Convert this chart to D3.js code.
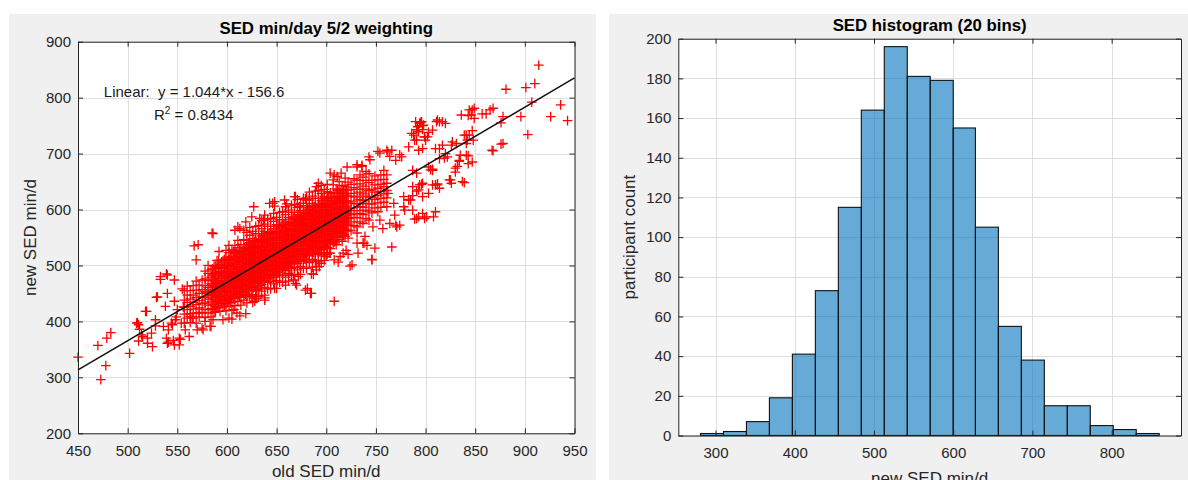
<!DOCTYPE html>
<html lang="en">
<head>
<meta charset="UTF-8">
<title>SED min/day 5/2 weighting</title>
<script src="https://d3js.org/d3.v7.min.js"></script>
<style>
  body { margin: 0; background: #fff; }
  svg { display: block; font-family: "Liberation Sans", Arial, Helvetica, sans-serif; }
</style>
</head>
<body>
<div id="chart"></div>
<script>
// ---------- data ----------
var scatterXTicks = [450, 500, 550, 600, 650, 700, 750, 800, 850, 900, 950];
var scatterYTicks = [200, 300, 400, 500, 600, 700, 800, 900];
var fitSlope = 1.044;
var fitIntercept = -156.6;
var fitR2 = "0.8434";

// dense middle of the cloud: [old SED, [new SED values in that column]]
var scatterCore = [
  [557, [397,413,425,438,455]],
  [560, [406,421,434,447,463]],
  [563, [398,414,427,440,455]],
  [566, [406,422,434,447,464]],
  [569, [415,430,443,456,472]],
  [572, [408,424,437,450,465]],
  [575, [416,432,444,457,474]],
  [578, [407,421,433,443,453,464,476,490]],
  [581, [415,429,440,451,461,473,486,500]],
  [584, [408,423,435,446,456,467,479,492]],
  [587, [416,430,442,452,462,473,485,499]],
  [590, [424,438,449,460,470,482,495,509]],
  [593, [418,433,445,456,466,477,489,502]],
  [596, [426,440,452,462,472,483,495,509]],
  [599, [419,432,443,453,462,471,480,490,501,513,527]],
  [602, [427,440,451,460,469,478,488,499,510,523,536]],
  [605, [420,434,445,455,465,474,483,493,504,515,528]],
  [608, [428,441,452,462,471,480,489,499,510,522,536]],
  [611, [436,449,460,469,478,487,497,508,519,532,545]],
  [614, [429,443,454,464,474,483,492,502,513,524,537]],
  [617, [438,451,462,472,481,490,499,509,520,532,546]],
  [620, [433,446,457,467,476,485,494,503,512,522,533,545,559]],
  [623, [442,454,465,475,484,492,501,510,520,530,541,554,568]],
  [626, [434,448,460,470,479,488,497,506,515,525,536,548,561]],
  [629, [445,457,469,479,487,496,505,514,524,534,545,557,570]],
  [632, [445,458,469,479,488,497,506,515,524,534,545,557,571]],
  [635, [454,466,477,487,496,504,513,522,532,542,553,566,580]],
  [638, [447,461,473,483,492,501,510,519,528,538,549,561,574]],
  [641, [458,470,482,492,500,509,518,527,537,547,558,570,583]],
  [644, [458,471,482,492,501,510,519,528,537,547,558,570,584]],
  [647, [467,479,490,500,509,517,526,535,545,555,566,579,593]],
  [650, [459,473,485,495,504,513,522,531,540,550,561,573,586]],
  [653, [470,482,494,504,512,521,530,539,549,559,570,582,595]],
  [656, [470,483,494,504,513,522,531,540,549,559,570,582,596]],
  [659, [479,491,502,512,521,529,538,547,557,567,578,591,605]],
  [662, [472,486,498,508,517,526,535,544,553,563,574,586,599]],
  [665, [483,495,507,517,525,534,543,552,562,572,583,595,608]],
  [668, [483,496,507,517,526,535,544,553,562,572,583,595,609]],
  [671, [492,504,515,525,534,542,551,560,570,580,591,604,618]],
  [674, [484,498,510,520,529,538,547,556,565,575,586,598,611]],
  [677, [495,507,519,529,537,546,555,564,574,584,595,607,620]],
  [680, [495,508,519,529,538,547,556,565,574,584,595,607,621]],
  [683, [505,517,528,538,547,555,564,573,583,593,604,617,631]],
  [686, [497,511,523,533,542,551,560,569,578,588,599,611,624]],
  [689, [508,520,532,542,550,559,568,577,587,597,608,620,633]],
  [692, [508,521,532,542,551,560,569,578,587,597,608,620,634]],
  [695, [517,529,540,550,559,567,576,585,595,605,616,629,643]],
  [698, [509,523,535,545,554,563,572,581,590,600,611,623,636]],
  [701, [520,532,544,554,562,571,580,589,599,609,620,632,645]],
  [704, [530,544,555,565,574,583,593,604,616,630]],
  [707, [540,553,564,574,583,593,604,616,629,644]],
  [710, [537,551,562,572,581,590,600,611,623,637]],
  [713, [546,559,570,580,589,599,610,622,635,650]],
  [716, [543,557,568,578,587,596,606,617,629,643]],
  [719, [552,565,576,586,595,605,616,628,641,656]],
  [722, [549,563,574,584,593,602,612,623,635,649]],
  [725, [562,578,591,603,615,629,645]],
  [728, [571,586,598,611,624,639,655]],
  [731, [569,585,598,610,622,636,652]],
  [734, [578,593,605,618,631,646,662]],
  [737, [575,591,604,616,628,642,658]],
  [740, [584,599,611,624,637,652,668]],
  [743, [581,597,610,622,634,648,664]],
  [746, [594,610,622,635,652]],
  [749, [603,618,631,644,660]],
  [752, [596,612,625,638,653]],
  [755, [604,620,632,645,662]],
  [758, [613,628,641,654,670]],
  [761, [605,621,634,647,662]]
];

// the solid band hugging the fit line, same layout
var scatterCoreInner = [
  [585.5, [421,431,440,448,456,465,474,483,494]],
  [588.5, [417,427,436,445,453,461,469,478,488,499]],
  [591.5, [425,435,444,452,460,469,477,487,497,509]],
  [594.5, [432,442,451,460,468,477,486,495,506]],
  [597.5, [429,438,447,456,464,472,481,490,500,511]],
  [600.5, [436,446,455,463,471,480,489,498,509]],
  [603.5, [433,443,452,461,469,477,485,494,504,515]],
  [606.5, [441,451,460,468,476,485,493,503,513,525]],
  [609.5, [448,458,467,476,484,493,502,511,522]],
  [612.5, [445,454,463,472,480,488,497,506,516,527]],
  [615.5, [452,462,471,479,487,496,505,514,525]],
  [618.5, [448,458,467,476,484,492,500,509,519,530]],
  [621.5, [456,466,475,483,491,500,508,518,528,540]],
  [624.5, [463,473,482,491,499,508,517,526,537]],
  [627.5, [461,470,479,488,496,504,513,522,532,543]],
  [630.5, [468,478,487,495,503,512,521,530,541]],
  [633.5, [464,474,483,492,500,508,516,525,535,546]],
  [636.5, [472,482,491,499,507,516,524,534,544,556]],
  [639.5, [479,489,498,507,515,524,533,542,553]],
  [642.5, [476,485,494,503,511,519,528,537,547,558]],
  [645.5, [483,493,502,510,518,527,536,545,556]],
  [648.5, [479,489,498,507,515,523,531,540,550,561]],
  [651.5, [488,498,507,515,523,532,540,550,560,572]],
  [654.5, [495,505,514,523,531,540,549,558,569]],
  [657.5, [492,501,510,519,527,535,544,553,563,574]],
  [660.5, [499,509,518,526,534,543,552,561,572]],
  [663.5, [495,505,514,523,531,539,547,556,566,577]],
  [666.5, [503,513,522,530,538,547,555,565,575,587]],
  [669.5, [510,520,529,538,546,555,564,573,584]],
  [672.5, [508,517,526,535,543,551,560,569,579,590]],
  [675.5, [515,525,534,542,550,559,568,577,588]],
  [678.5, [511,521,530,539,547,555,563,572,582,593]],
  [681.5, [519,529,538,546,554,563,571,581,591,603]],
  [684.5, [526,536,545,554,562,571,580,589,600]],
  [687.5, [523,532,541,550,558,566,575,584,594,605]],
  [690.5, [530,540,549,557,565,574,583,592,603]],
  [693.5, [526,536,545,554,562,570,578,587,597,608]],
  [696.5, [535,545,554,562,570,579,587,597,607,619]],
  [699.5, [542,552,561,570,578,587,596,605,616]],
  [702.5, [539,548,557,566,574,582,591,600,610,621]],
  [705.5, [546,556,565,573,581,590,599,608,619]],
  [708.5, [542,552,561,570,578,586,594,603,613,624]],
  [711.5, [550,560,569,577,585,594,602,612,622,634]],
  [714.5, [557,567,576,585,593,602,611,620,631]],
  [717.5, [554,563,572,581,589,597,606,615,625,636]],
  [720.5, [562,572,581,589,597,606,615,624,635]]
];

// scattered points around the cloud and in both tails: [old SED, new SED]
var scatterSparse = [
  [450,336],[473,296],[478,321],[470,357],[479,370],[483,380],[502,343],[509,397],[511,394],[519,418],
  [512,386],[514,376],[511,365],[520,370],[525,355],[524,379],[529,443],[533,475],[539,485],[547,474],
  [540,450],[538,427],[536,391],[539,370],[540,361],[547,358],[552,358],[552,370],[545,394],[549,408],
  [554,397],[550,421],[547,436],[555,458],[567,535],[569,510],[571,537],[585,558],[565,406],[570,385],
  [575,388],[584,391],[572,415],[540,483],[533,480],[530,444],[528,403],[528,392],[518,418],[510,398],
  [515,373],[520,361],[541,363],[546,366],[553,368],[544,397],[541,385],[548,403],[558,385],[562,373],
  [569,397],[578,400],[586,403],
  [708,436],[685,450],[681,459],[669,468],[659,465],[648,459],[638,442],[628,436],[630,441],[607,421],
  [605,404],[602,406],[596,403],[613,410],[619,414],[625,445],[766,533],[749,531],[746,511],[741,536],
  [738,540],[724,499],[722,520],[720,527],[708,510],[712,506],[714,516],[698,520],[703,522],[690,492],
  [693,498],[685,485],[687,484],[665,483],[672,480],[700,533],[732,522],[789,583],[799,584],[810,596],
  [770,572],[764,575],[779,599],[785,617],[769,590],[762,629],[778,605],[783,618],[787,625],[791,633],
  [793,635],[797,623],[803,629],[787,599],[793,587],[808,587],[797,593],
  [586,557],[608,563],[611,569],[619,578],[625,587],[627,605],[638,590],[646,611],[648,614],[658,617],
  [669,623],[673,605],[681,599],[692,647],[704,665],[708,662],[711,659],[721,676],[731,676],[736,679],
  [743,694],[754,701],[762,703],[766,706],[774,698],[770,688],[776,694],[783,712],[789,724],[791,743],
  [795,756],[797,750],[799,730],[803,738],[807,742],[811,757],[820,754],[814,691],[822,694],[807,670],
  [803,676],[812,644],[814,638],[793,706],[797,709],[787,670],[791,665],[826,647],[830,667],[835,697],
  [843,682],[847,685],[841,718],[848,724],[867,706],[878,718],[849,763],[857,771],[865,778],[843,768],
  [849,781],[914,858],[910,825],[901,818],[881,815],[907,792],[936,787],[943,759],[926,766],[896,766],
  [903,734],[878,766],[876,755],[868,781],[861,771],[847,778],[846,769],[844,778],[847,741],[844,733],
  [836,769],[876,717],[868,705],[843,696],[834,688],[832,677],[830,674],[824,653],[839,648],[812,760],
  [817,757],[790,757],[796,757],[791,743],[797,743],[799,730],[800,724],[827,721],[826,715],[831,718],
  [841,733],[842,724],[814,709],[810,709],[820,700],[819,692],[805,671],[807,644],[812,646],[794,644],
  [796,645],[787,641],[807,672],[825,653],[837,650],[810,644],[797,647],[834,686],[841,697],[839,733],
  [817,715],[814,757],[792,748],[802,730],[786,736],
  // ragged edges of the dense band
  [592,525],[613,566],[617,563],[633,584],[637,581],[643,611],[648,606],[660,610],[668,623],[679,619],
  [680,617],[690,641],[715,665],[707,653],[731,680],[736,677],[744,689],[752,704],[761,706],[764,695],
  [788,733],[791,724],[793,739],[794,754],[798,751],
  [610,415],[598,438],[630,456],[638,438],[667,474],[670,465],[679,456],[684,450],[690,498],[695,504],
  [700,516],[704,522],[717,522],[726,501],[731,540],[737,540],[746,510],[747,569],[757,566],[771,569],
  [774,572],[791,584],[801,587],[754,581],[768,611],[778,623],[783,617],[731,558],[739,552],
  [576,385],[583,391],[563,409],[556,426]
];

var histEdges = [281, 310, 339, 368, 397, 426, 455, 484, 513, 542, 571, 600, 628, 657, 686, 715, 744, 773, 802, 831, 860];
var histCounts = [1, 2, 7, 19, 41, 73, 115, 164, 196, 181, 179, 155, 105, 55, 38, 15, 15, 5, 3, 1];
var histXTicks = [300, 400, 500, 600, 700, 800];
var histYTicks = [0, 20, 40, 60, 80, 100, 120, 140, 160, 180, 200];

// ---------- layout ----------
var W = 1188, H = 480;
var ink = "#262626", gridCol = "#dfdfdf", panelCol = "#f0f0f0";

var svg = d3.select("#chart").append("svg")
  .attr("width", W).attr("height", H);

svg.append("rect").attr("x", 9).attr("y", 14).attr("width", 587).attr("height", H - 14).attr("fill", panelCol);
svg.append("rect").attr("x", 609).attr("y", 14).attr("width", W - 609).attr("height", H - 14).attr("fill", panelCol);

// white plot box + grid, returns layers for data and for the frame
function makeAxes(x, y, xTicks, yTicks) {
  var x0 = x.range()[0], x1 = x.range()[1];
  var y0 = y.range()[0], y1 = y.range()[1];
  var g = svg.append("g");
  g.append("rect").attr("x", x0).attr("y", y1).attr("width", x1 - x0).attr("height", y0 - y1).attr("fill", "#fff");

  var grid = g.append("g").attr("stroke", gridCol).attr("stroke-width", 1);
  grid.selectAll(".gx").data(xTicks).join("line")
    .attr("x1", d => Math.round(x(d)) + 0.5).attr("x2", d => Math.round(x(d)) + 0.5)
    .attr("y1", y1).attr("y2", y0);
  grid.selectAll(".gy").data(yTicks).join("line")
    .attr("y1", d => Math.round(y(d)) + 0.5).attr("y2", d => Math.round(y(d)) + 0.5)
    .attr("x1", x0).attr("x2", x1);

  return { plot: g.append("g"), axes: g.append("g") };
}

// box with inward ticks on all four sides, labels only bottom/left
function drawFrame(layer, x, y, xTicks, yTicks) {
  var x0 = x.range()[0], x1 = x.range()[1];
  var y0 = y.range()[0], y1 = y.range()[1];

  var bottom = layer.append("g").attr("transform", "translate(0," + y0 + ")")
    .call(d3.axisBottom(x).tickValues(xTicks).tickSizeInner(-5).tickSizeOuter(0).tickPadding(12));
  var top = layer.append("g").attr("transform", "translate(0," + y1 + ")")
    .call(d3.axisTop(x).tickValues(xTicks).tickSizeInner(-5).tickSizeOuter(0).tickFormat(""));
  var left = layer.append("g").attr("transform", "translate(" + x0 + ",0)")
    .call(d3.axisLeft(y).tickValues(yTicks).tickSizeInner(-5).tickSizeOuter(0).tickPadding(7));
  var right = layer.append("g").attr("transform", "translate(" + x1 + ",0)")
    .call(d3.axisRight(y).tickValues(yTicks).tickSizeInner(-5).tickSizeOuter(0).tickFormat(""));

  [bottom, top, left, right].forEach(function (a) {
    a.select(".domain").attr("stroke", ink);
    a.selectAll(".tick line").attr("stroke", ink);
    a.selectAll(".tick text").attr("fill", ink).style("font-size", "15px")
      .style("font-family", '"Liberation Sans", Arial, sans-serif');
  });
}

// ---------- left: scatter ----------
var sx = d3.scaleLinear().domain([450, 950]).range([78, 574.5]);
var sy = d3.scaleLinear().domain([200, 900]).range([433.3, 41.7]);
var leftAx = makeAxes(sx, sy, scatterXTicks, scatterYTicks);

var corePairs = [];
scatterCore.concat(scatterCoreInner).forEach(function (col) {
  col[1].forEach(function (v) { corePairs.push([col[0], v]); });
});

var plus = "M-4.8,0H4.8M0,-4.8V4.8";
leftAx.plot.append("g")
  .attr("fill", "none").attr("stroke", "#ff0000").attr("stroke-width", 1.3)
  .selectAll("path").data(corePairs.concat(scatterSparse)).join("path")
  .attr("d", plus)
  .attr("transform", d => "translate(" + sx(d[0]) + "," + sy(d[1]) + ")");

var fitX = sx.domain();
leftAx.plot.append("line")
  .attr("x1", sx(fitX[0])).attr("y1", sy(fitSlope * fitX[0] + fitIntercept))
  .attr("x2", sx(fitX[1])).attr("y2", sy(fitSlope * fitX[1] + fitIntercept))
  .attr("stroke", "#111").attr("stroke-width", 1.5);

drawFrame(leftAx.axes, sx, sy, scatterXTicks, scatterYTicks);

var note = leftAx.axes.append("g").attr("fill", "#1a1a1a").style("font-size", "15px");
note.append("text").attr("x", sx(476)).attr("y", sy(801))
  .text("Linear:\u00a0 y = " + fitSlope + "*x - " + Math.abs(fitIntercept));
var r2 = note.append("text").attr("x", sx(526.5)).attr("y", sy(760));
r2.append("tspan").text("R");
r2.append("tspan").attr("dy", -6).style("font-size", "10px").text("2");
r2.append("tspan").attr("dy", 6).text(" = " + fitR2);

svg.append("text").attr("x", (78 + 574.5) / 2).attr("y", 33.5)
  .attr("text-anchor", "middle").attr("fill", "#000")
  .style("font-size", "16.8px").style("font-weight", "bold")
  .text("SED min/day 5/2 weighting");
svg.append("text").attr("x", (78 + 574.5) / 2).attr("y", 476.5)
  .attr("text-anchor", "middle").attr("fill", ink).style("font-size", "17px")
  .text("old SED min/d");
svg.append("text").attr("transform", "translate(35.5," + (433.3 + 41.7) / 2 + ") rotate(-90)")
  .attr("text-anchor", "middle").attr("fill", ink).style("font-size", "17px")
  .text("new SED min/d");

// ---------- right: histogram ----------
var hx = d3.scaleLinear().domain([253, 887.5]).range([678.3, 1181]);
var hy = d3.scaleLinear().domain([0, 200]).range([435.5, 38.7]);
var rightAx = makeAxes(hx, hy, histXTicks, histYTicks);

rightAx.plot.append("g")
  .selectAll("rect").data(histCounts).join("rect")
  .attr("x", (d, i) => hx(histEdges[i]))
  .attr("width", (d, i) => hx(histEdges[i + 1]) - hx(histEdges[i]))
  .attr("y", d => hy(d))
  .attr("height", d => hy(0) - hy(d))
  .attr("fill", "rgba(0,114,189,0.6)")
  .attr("stroke", "#111").attr("stroke-width", 1.1);

drawFrame(rightAx.axes, hx, hy, histXTicks, histYTicks);

svg.append("text").attr("x", (678.3 + 1181) / 2).attr("y", 30.8)
  .attr("text-anchor", "middle").attr("fill", "#000")
  .style("font-size", "16.8px").style("font-weight", "bold")
  .text("SED histogram (20 bins)");
svg.append("text").attr("x", (678.3 + 1181) / 2).attr("y", 483.5)
  .attr("text-anchor", "middle").attr("fill", ink).style("font-size", "17px")
  .text("new SED min/d");
svg.append("text").attr("transform", "translate(635," + (435.5 + 38.7) / 2 + ") rotate(-90)")
  .attr("text-anchor", "middle").attr("fill", ink).style("font-size", "17px")
  .text("participant count");
</script>
</body>
</html>
